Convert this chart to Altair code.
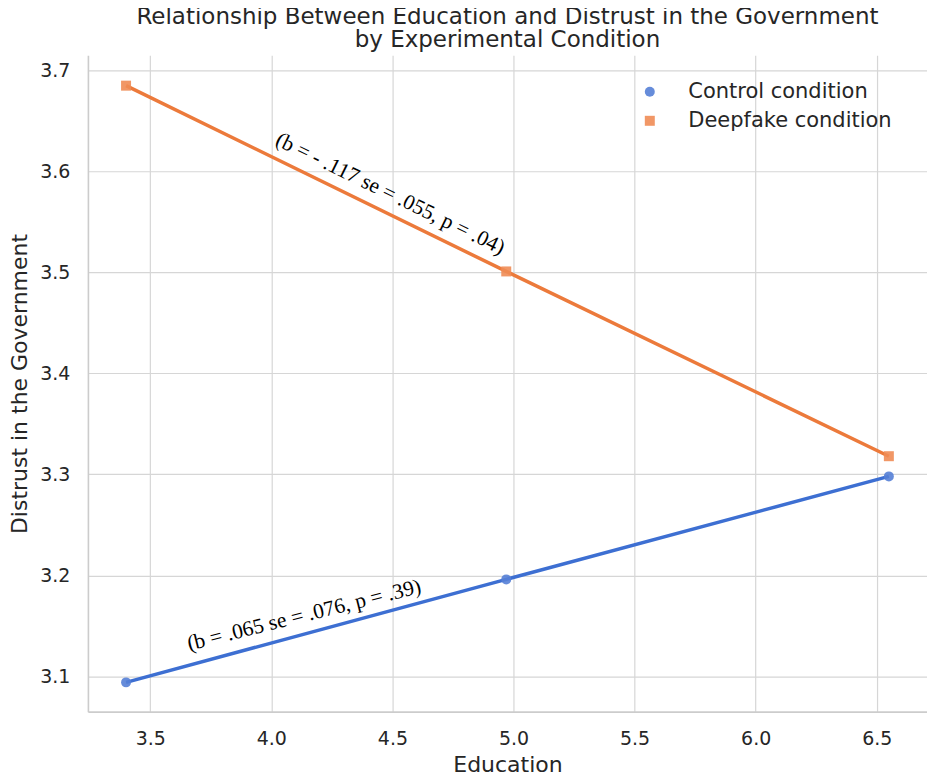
import altair as alt
import pandas as pd

education = [3.40, 4.97, 6.55]
control = [3.094, 3.196, 3.298]
deepfake = [3.685, 3.501, 3.318]
conditions = ["Control condition", "Deepfake condition"]

line_colors = ["#3d6fd2", "#ec7a3b"]
point_colors = ["#5580d6", "#f08c55"]

rows = []
for e, c in zip(education, control):
    rows.append({"edu": e, "val": c, "cond": conditions[0]})
for e, d in zip(education, deepfake):
    rows.append({"edu": e, "val": d, "cond": conditions[1]})
df = pd.DataFrame(rows)

ann = pd.DataFrame([
    {"edu": 4.49, "val": 3.5775, "txt": "(b = - .117 se = .055, p = .04)", "ang": 26},
    {"edu": 4.136, "val": 3.160, "txt": "(b = .065 se = .076, p = .39)", "ang": 346},
])

xs = alt.Scale(domain=[3.2425, 6.7075], nice=False, zero=False)
ys = alt.Scale(domain=[3.065, 3.715], nice=False, zero=False)

x_axis = alt.Axis(title="Education", values=[3.5, 4.0, 4.5, 5.0, 5.5, 6.0, 6.5], format=".1f",
                  labelPadding=18, titlePadding=6)
y_axis = alt.Axis(title="Distrust in the Government", values=[3.1, 3.2, 3.3, 3.4, 3.5, 3.6, 3.7],
                  format=".1f", labelPadding=18, titlePadding=8)

base = alt.Chart(df)

line_layers = []
for i, cond in enumerate(conditions):
    enc = dict(x=alt.X("edu:Q", scale=xs), y=alt.Y("val:Q", scale=ys))
    if i == 0:
        enc = dict(x=alt.X("edu:Q", scale=xs, axis=x_axis), y=alt.Y("val:Q", scale=ys, axis=y_axis))
    line_layers.append(
        base.mark_line(strokeWidth=3.5, color=line_colors[i])
        .transform_filter(alt.datum.cond == cond)
        .encode(**enc)
    )

leg = alt.Legend(title=None, orient="none", legendX=552, legendY=26,
                 symbolSize=100, labelFontSize=21, labelOffset=28, rowPadding=7,
                 labelLimit=400)

points = base.mark_point(filled=True, size=100, opacity=0.9).encode(
    x=alt.X("edu:Q", scale=xs),
    y=alt.Y("val:Q", scale=ys),
    color=alt.Color("cond:N", scale=alt.Scale(domain=conditions, range=point_colors), legend=leg),
    shape=alt.Shape("cond:N", scale=alt.Scale(domain=conditions, range=["circle", "square"]), legend=leg),
)

texts = alt.Chart(ann).mark_text(font="Liberation Serif", fontSize=21.5, align="center",
                                 baseline="middle", color="black").encode(
    x=alt.X("edu:Q", scale=xs),
    y=alt.Y("val:Q", scale=ys),
    text="txt:N",
    angle=alt.Angle("ang:Q", scale=None),
)

chart = alt.layer(*line_layers, points, texts).properties(
    width=840,
    height=657,
    autosize="none",
    padding={"left": 80, "top": 47, "right": 0, "bottom": 65},
    title=alt.Title(["Relationship Between Education and Distrust in the Government",
                     "by Experimental Condition"],
                    fontSize=23, lineHeight=23, offset=3, font="DejaVu Sans",
                    fontWeight="normal", color="#262626", anchor="middle"),
).configure_view(stroke=None).configure_axis(
    labelFont="DejaVu Sans", titleFont="DejaVu Sans", labelFontSize=19, titleFontSize=22,
    titleFontWeight="normal", labelColor="#262626", titleColor="#262626",
    gridColor="#d6d6d6", gridWidth=1.2, domainColor="#cccccc", domainWidth=1.6,
    ticks=False,
).configure_legend(labelFont="DejaVu Sans", labelColor="#262626")

chart.save("out.html", embed_options={"renderer": "svg", "actions": False})
